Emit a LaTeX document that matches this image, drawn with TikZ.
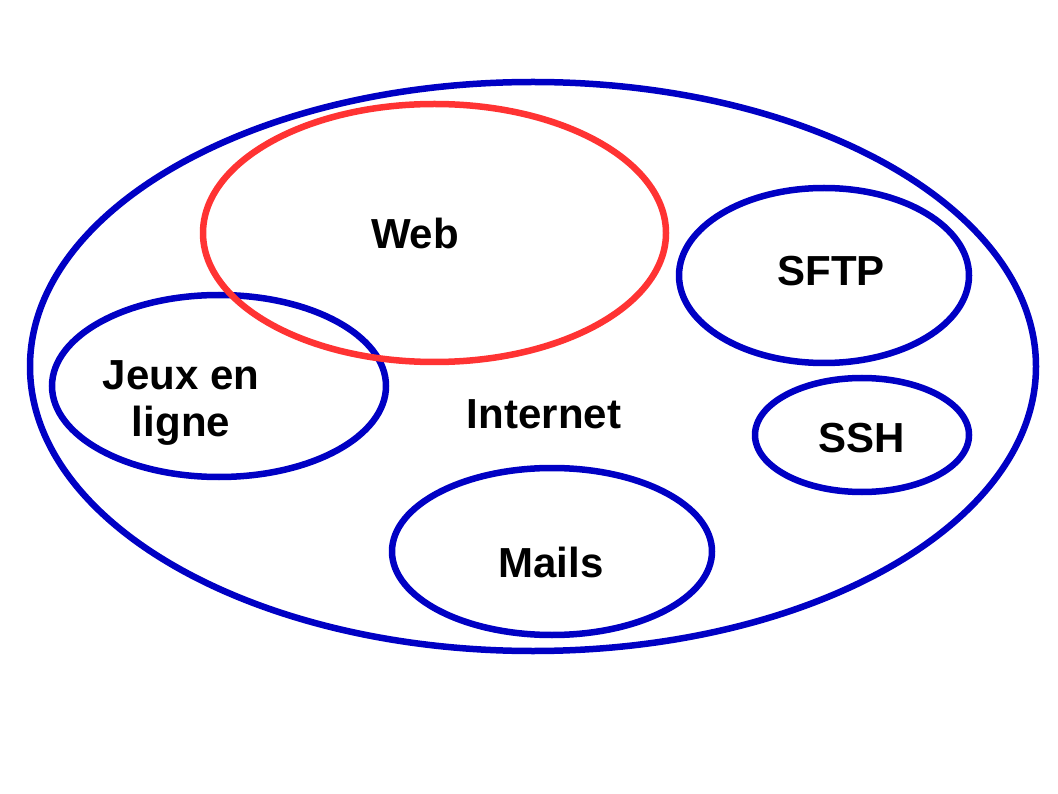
\documentclass[tikz,border=0pt]{standalone}
\usepackage{fontspec}
\setmainfont{Liberation Sans}
\definecolor{ringblue}{HTML}{0000C4}
\definecolor{ringred}{HTML}{FF3333}
\tikzset{
  ring/.style={draw=ringblue, line width=6.5pt},
  redring/.style={draw=ringred, line width=6.5pt},
  lbl/.style={font=\fontsize{42}{47}\selectfont\bfseries, text=black, align=center, inner sep=0pt}
}
\begin{document}
\begin{tikzpicture}[x=1pt,y=-1pt]
\useasboundingbox[fill=white] (0,0) rectangle (1058,794);
% outer
\draw[ring] (533,366.5) ellipse [x radius=503, y radius=284.5];
% sub ellipses
\draw[ring] (824,275.5) ellipse [x radius=145, y radius=87.5];
\draw[ring] (862,435) ellipse [x radius=107, y radius=57];
\draw[ring] (219,386) ellipse [x radius=167, y radius=91];
\draw[ring] (552,551.5) ellipse [x radius=160, y radius=83.5];
\draw[redring] (434.5,233) ellipse [x radius=231.5, y radius=129];
% labels
\node[lbl] (web) at (415,233) {Web};
\node[lbl] (sftp) at (831,271) {SFTP};
\node[lbl] (ssh) at (862,438) {SSH};
\node[lbl] (jeux) at (181,403) {Jeux en\\ligne};
\node[lbl] (internet) at (544,414) {Internet};
\node[lbl] (mails) at (551,562) {Mails};
\end{tikzpicture}
\end{document}
